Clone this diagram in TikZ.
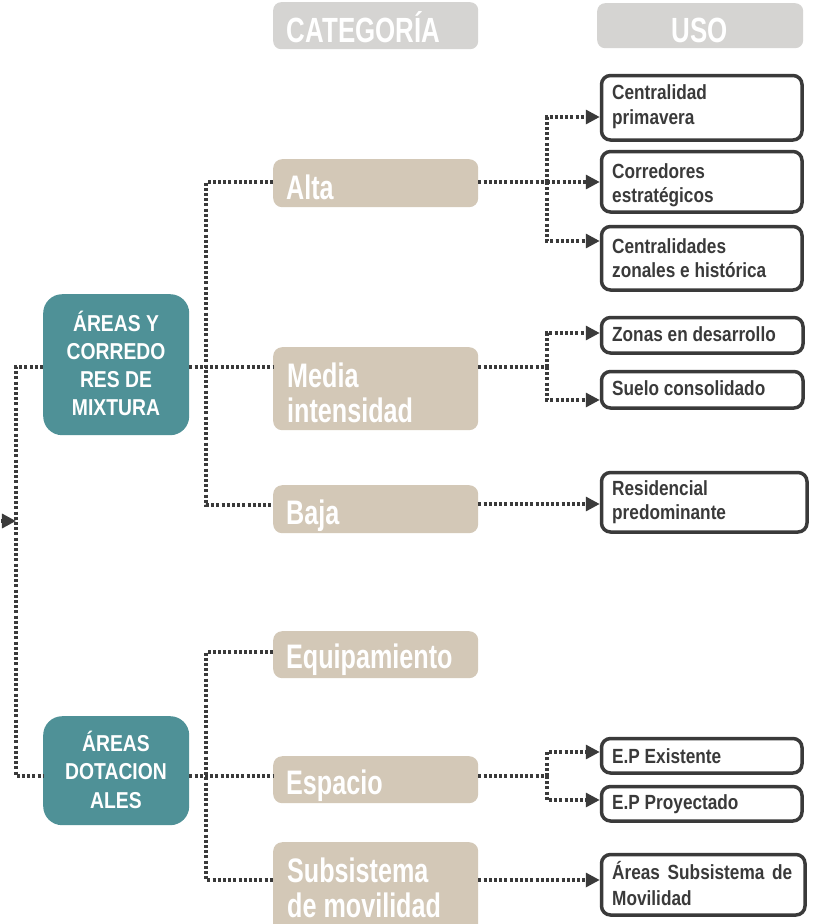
\documentclass[tikz,border=0pt]{standalone}
\usepackage{fontspec}
\setmainfont{Liberation Sans}
\newfontfamily\headfont[FakeStretch=0.74]{Liberation Sans}
\newfontfamily\boxfont[FakeStretch=0.84]{Liberation Sans}
\usetikzlibrary{arrows.meta}

\definecolor{tealbox}{HTML}{4F9197}
\definecolor{sandbox}{HTML}{D3C8B7}
\definecolor{headgrey}{HTML}{D5D4D2}
\definecolor{inkgrey}{HTML}{3A3A3A}

% stacked lines with a fixed baseline distance; the node baseline is the first line
\newcommand\txtrowsL[2]{\vtop{\baselineskip=#1\lineskiplimit=-100pt\lineskip=0pt\halign{##\hfil\cr#2\crcr}}}
\newcommand\txtrowsC[2]{\vtop{\baselineskip=#1\lineskiplimit=-100pt\lineskip=0pt\halign{\hfil##\hfil\cr#2\crcr}}}

\tikzset{
  x=1pt, y=-1pt,
  headbox/.style={fill=headgrey, rounded corners=8pt, inner sep=0pt, anchor=north west},
  catbox/.style={fill=sandbox, rounded corners=9pt, inner sep=0pt, anchor=north west},
  mainbox/.style={fill=tealbox, rounded corners=19pt, inner sep=0pt, anchor=north west},
  usebox/.style={draw=inkgrey, line width=3.5pt, fill=white, rounded corners=9pt, inner sep=0pt, anchor=north west},
  headtxt/.style={text=white, font=\headfont\bfseries\fontsize{35}{40}\selectfont, inner sep=0pt},
  cattxt/.style={text=white, font=\headfont\bfseries\fontsize{34}{40}\selectfont, inner sep=0pt, anchor=base west},
  maintxt/.style={text=white, font=\boxfont\bfseries\fontsize{23}{28}\selectfont, inner sep=0pt, anchor=base},
  usetxt/.style={text=inkgrey, font=\boxfont\bfseries\fontsize{20.5}{25}\selectfont, inner sep=0pt, anchor=base west},
  link/.style={draw=inkgrey, line width=3.2pt, dash pattern=on 3pt off 2.2pt},
  arr/.style={link, -{Triangle[length=14pt,width=14pt]}},
}

\begin{document}
\begin{tikzpicture}
\useasboundingbox (0,0) rectangle (818,924);
\fill[white] (0,0) rectangle (818,924);

% column headers
\node[headbox, minimum width=205pt, minimum height=47pt] (hcat) at (273,2) {};
\node[headtxt, anchor=base west] (hcat-t) at (286.5,42) {CATEGORÍA};
\node[headbox, minimum width=206pt, minimum height=45pt] (huso) at (597,3) {};
\node[headtxt, anchor=base] (huso-t) at (700,42) {USO};

% main groups
\node[mainbox, minimum width=146pt, minimum height=141pt] (mix) at (43,294) {};
\node[maintxt] (mix-t) at (116,331) {\txtrowsC{28pt}{ÁREAS Y\cr CORREDO\cr RES DE\cr MIXTURA}};
\node[mainbox, minimum width=146pt, minimum height=109pt] (dot) at (43,716) {};
\node[maintxt] (dot-t) at (116,751) {\txtrowsC{28.5pt}{ÁREAS\cr DOTACION\cr ALES}};

% categories
\node[catbox, minimum width=205pt, minimum height=48pt] (alta) at (273,159) {};
\node[cattxt] (alta-t) at (286,199) {Alta};
\node[catbox, minimum width=205pt, minimum height=83pt] (media) at (273,347) {};
\node[cattxt] (media-t) at (287,387) {\txtrowsL{35pt}{Media\cr intensidad}};
\node[catbox, minimum width=205pt, minimum height=48pt] (baja) at (273,485) {};
\node[cattxt] (baja-t) at (286,524) {Baja};
\node[catbox, minimum width=205pt, minimum height=47pt] (equip) at (273,631) {};
\node[cattxt] (equip-t) at (286,668) {Equipamiento};
\node[catbox, minimum width=205pt, minimum height=47pt] (espacio) at (273,756) {};
\node[cattxt] (espacio-t) at (286,794) {Espacio};
\node[catbox, minimum width=205pt, minimum height=100pt] (subs) at (273,842) {};
\node[cattxt] (subs-t) at (287,882) {\txtrowsL{35pt}{Subsistema\cr de movilidad}};

% uses
\node[usebox, minimum width=200.5pt, minimum height=64.5pt] (cp) at (599.75,73.75) {};
\node[usetxt] (cp-t) at (612,99) {\txtrowsL{25pt}{Centralidad\cr primavera}};
\node[usebox, minimum width=200.5pt, minimum height=60.5pt] (cr) at (599.75,149.75) {};
\node[usetxt] (cr-t) at (612,178) {\txtrowsL{24pt}{Corredores\cr estratégicos}};
\node[usebox, minimum width=200.5pt, minimum height=63.5pt] (cz) at (599.75,224.75) {};
\node[usetxt] (cz-t) at (612,253) {\txtrowsL{24.5pt}{Centralidades\cr zonales e histórica}};
\node[usebox, minimum width=201.5pt, minimum height=35.5pt] (zonas) at (599.75,315.75) {};
\node[usetxt] (zonas-t) at (612,341) {Zonas en desarrollo};
\node[usebox, minimum width=201.5pt, minimum height=36.5pt] (suelo) at (599.75,369.75) {};
\node[usetxt] (suelo-t) at (612,395) {Suelo consolidado};
\node[usebox, minimum width=205.5pt, minimum height=59.5pt] (resid) at (599.75,470.75) {};
\node[usetxt] (resid-t) at (612,495) {\txtrowsL{24pt}{Residencial\cr predominante}};
\node[usebox, minimum width=200.5pt, minimum height=34.5pt] (epe) at (599.75,736.75) {};
\node[usetxt] (epe-t) at (612,763) {E.P Existente};
\node[usebox, minimum width=200.5pt, minimum height=34.5pt] (epp) at (599.75,784.75) {};
\node[usetxt] (epp-t) at (612,809) {E.P Proyectado};
\node[usebox, minimum width=203.5pt, minimum height=60.5pt] (asm) at (599.75,852.75) {};
\node[usetxt] (asm-t) at (612,879) {\txtrowsL{26pt}{\hbox to 180pt{Áreas Subsistema de}\cr Movilidad}};

% left loop joining both groups, with its incoming arrow
\coordinate (lt) at (16,367);
\coordinate (lb) at (16,776);
\coordinate (feed) at (-4,521);
\draw[link] (mix.west |- lt) -- (lt) -- (lb) -- (dot.west |- lb);
\draw[arr] (feed) -- (lt |- feed);

% group -> categories
\coordinate (ja) at (206,367);
\draw[link] (mix.east |- ja) -- (media.west |- ja);
\draw[link] (alta.west |- 0,182) -| (ja) |- (baja.west |- 0,505);
\coordinate (jb) at (206,776);
\draw[link] (dot.east |- jb) -- (espacio.west |- jb);
\draw[link] (equip.west |- 0,652) -| (jb) |- (subs.west |- 0,880);

% categories -> uses
\coordinate (ra) at (547,182);
\draw[link] (alta.east |- ra) -- (ra);
\draw[arr] (ra) |- (cp.west |- 0,117);
\draw[arr] (ra) -- (cr.west |- ra);
\draw[arr] (ra) |- (cz.west |- 0,241);

\coordinate (rm) at (547,367);
\draw[link] (media.east |- rm) -- (rm);
\draw[arr] (rm) |- (zonas.west |- 0,333);
\draw[arr] (rm) |- (suelo.west |- 0,400);

\draw[arr] (baja.east |- 0,504) -- (resid.west |- 0,504);

\coordinate (re) at (547,776);
\draw[link] (espacio.east |- re) -- (re);
\draw[arr] (re) |- (epe.west |- 0,752);
\draw[arr] (re) |- (epp.west |- 0,800);

\draw[arr] (subs.east |- 0,880) -- (asm.west |- 0,880);
\end{tikzpicture}
\end{document}
